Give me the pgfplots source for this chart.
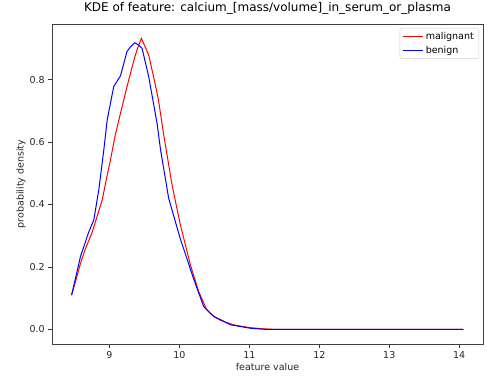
\documentclass[border=0pt]{standalone}
\usepackage{pgfplots}
\pgfplotsset{compat=1.18}
\usepackage{fontspec}
\setmainfont{DejaVu Sans}
\begin{document}
\begin{tikzpicture}
\path[use as bounding box] (0,0) rectangle (490pt,377pt);
\begin{axis}[
  at={(52pt,33pt)}, anchor=south west,
  width=431pt, height=320pt, scale only axis,
  xmin=8.178, xmax=14.34, ymin=-0.0465, ymax=0.978,
  xtick={9,10,11,12,13,14},
  ytick={0,0.2,0.4,0.6,0.8},
  yticklabel style={/pgf/number format/fixed,/pgf/number format/fixed zerofill,/pgf/number format/precision=1},
  /pgf/number format/assume math mode=true,
  tick align=outside, tick pos=left,
  major tick length=3.7pt,
  every tick/.style={black!80, line width=0.8pt},
  axis line style={black!75, line width=0.8pt},
  tick label style={font=\fontsize{9.5}{11}\selectfont, text=black!85},
  label style={font=\fontsize{9.5}{11}\selectfont, text=black!85},
  title={KDE of feature: calcium\_[mass/volume]\_in\_serum\_or\_plasma},
  title style={at={(axis description cs:0.5,1)}, anchor=base, yshift=6.7pt, font=\fontsize{12}{14}\selectfont},
  xlabel={feature value},
  xlabel style={at={(axis description cs:0.5,0)}, anchor=base, yshift=-27pt},
  ylabel={probability density},
  ylabel style={at={(axis description cs:-0.072,0.5)}, anchor=center, rotate=0},
  legend style={at={(axis description cs:1,1)}, anchor=north east, xshift=-4pt, yshift=-4pt,
    draw=black!20, rounded corners=2pt, font=\fontsize{9.5}{11}\selectfont,
    row sep=1pt, inner xsep=3pt, inner ysep=2pt},
  legend cell align=left,
  legend image code/.code={\draw[#1] (0pt,0pt) -- (20pt,0pt);},
]
\addplot[red, line width=1pt] coordinates {
(8.458,0.110) (8.52,0.158) (8.586,0.212) (8.65,0.255) (8.75,0.31) (8.82,0.36)
(8.896,0.415) (8.95,0.475) (9.014,0.543) (9.08,0.62) (9.157,0.692) (9.25,0.777)
(9.35,0.863) (9.40,0.90) (9.456,0.932) (9.56,0.879) (9.656,0.783) (9.70,0.735)
(9.775,0.623) (9.894,0.463) (10.013,0.335) (10.156,0.207) (10.274,0.122)
(10.39,0.063) (10.5,0.04) (10.6,0.028) (10.77,0.015) (11.0,0.006) (11.2,0.002)
(11.4,0.0) (14.06,0.0)
};
\addlegendentry{malignant}
\addplot[blue, line width=1pt] coordinates {
(8.458,0.110) (8.586,0.234) (8.70,0.31) (8.776,0.351) (8.847,0.447) (8.919,0.575)
(8.967,0.671) (9.061,0.778) (9.157,0.812) (9.25,0.89) (9.30,0.905) (9.361,0.918)
(9.42,0.91) (9.466,0.90) (9.56,0.81) (9.68,0.66) (9.73,0.575) (9.846,0.42)
(10.01,0.292) (10.2,0.164) (10.345,0.074) (10.44,0.052) (10.49,0.042) (10.6,0.03)
(10.73,0.015) (11.01,0.004) (11.25,0.0) (14.06,0.0)
};
\addlegendentry{benign}
\end{axis}
\end{tikzpicture}
\end{document}
